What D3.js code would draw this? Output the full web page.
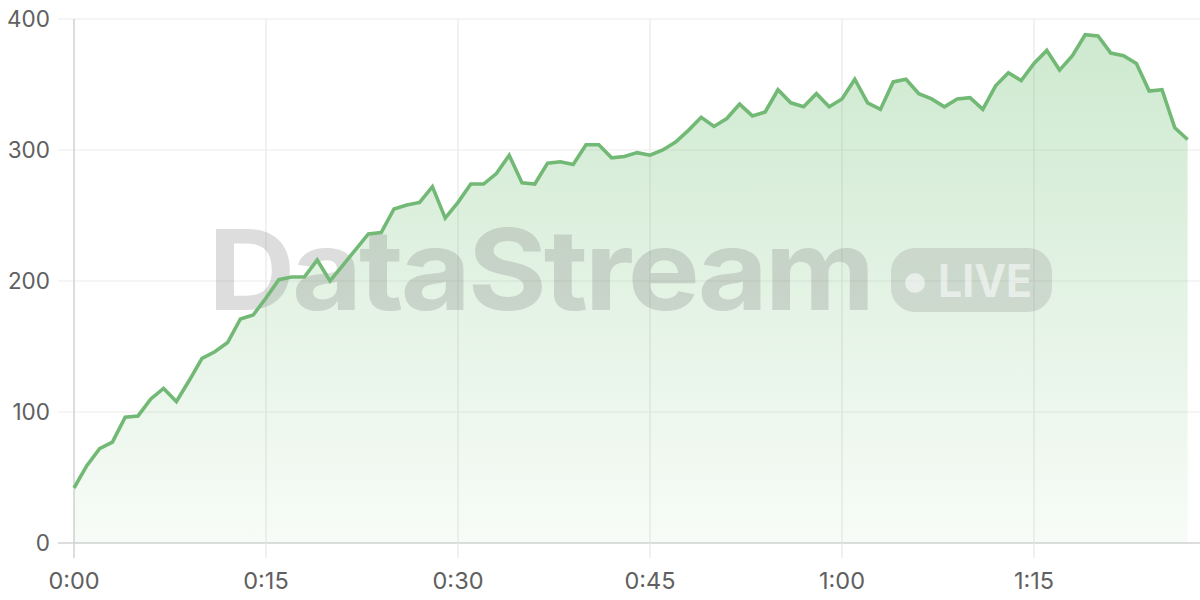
<!DOCTYPE html>
<html>
<head>
<meta charset="utf-8">
<script src="https://cdn.jsdelivr.net/npm/d3@7"></script>
<style>
  html, body { margin: 0; padding: 0; background: #fff; }
  text { font-family: Inter, "Noto Sans", sans-serif; }
</style>
</head>
<body>
<div id="canvas"></div>
<script>
var width = 1200;
var height = 600;

// seconds since start, one reading per second
var seconds = d3.range(0, 88);
var values = [
  42, 59, 72, 77, 96, 97, 110, 118, 108, 124,
  141, 146, 153, 171, 174, 187, 201, 203, 203, 216,
  200, 212, 224, 236, 237, 255, 258, 260, 272, 248,
  260, 274, 274, 282, 296, 275, 274, 290, 291, 289,
  304, 304, 294, 295, 298, 296, 300, 306, 315, 325,
  318, 324, 335, 326, 329, 346, 336, 333, 343, 333,
  339, 354, 336, 331, 352, 354, 343, 339, 333, 339,
  340, 331, 349, 359, 353, 366, 376, 361, 372, 388,
  387, 374, 372, 366, 345, 346, 317, 308
];
var xTicks = [0, 15, 30, 45, 60, 75];
var yTicks = [0, 100, 200, 300, 400];

var svg = d3.select("#canvas").append("svg")
      .attr("width", width)
      .attr("height", height);

var x = d3.scaleLinear().domain([0, 87]).range([74, 1187.6]);
var y = d3.scaleLinear().domain([0, 400]).range([543, 19]);

function fmt(s) {
  return Math.floor(s / 60) + ":" + d3.format("02")(s % 60);
}

// gradient for the area
var grad = svg.append("defs").append("linearGradient")
    .attr("id", "fillGrad")
    .attr("x1", 0).attr("y1", 0).attr("x2", 0).attr("y2", 1);
grad.append("stop").attr("offset", "0%").attr("stop-color", "#66bb6a").attr("stop-opacity", 0.32);
grad.append("stop").attr("offset", "100%").attr("stop-color", "#66bb6a").attr("stop-opacity", 0.05);

// horizontal grid + y labels
svg.append("g").selectAll("line")
    .data(yTicks).enter().append("line")
    .attr("x1", 58).attr("x2", width)
    .attr("y1", d => y(d)).attr("y2", d => y(d))
    .attr("stroke", d => d === 0 ? "#d2d2d2" : "#ebebeb")
    .attr("stroke-width", d => d === 0 ? 1.5 : 1.2);

svg.append("g").selectAll("text")
    .data(yTicks).enter().append("text")
    .attr("x", 50).attr("y", d => y(d))
    .attr("dy", "0.36em")
    .attr("text-anchor", "end")
    .attr("fill", "#606060")
    .attr("font-size", 22.5)
    .text(d => d);

// vertical grid + x labels
svg.append("g").selectAll("line")
    .data(xTicks).enter().append("line")
    .attr("x1", d => x(d)).attr("x2", d => x(d))
    .attr("y1", 19).attr("y2", 558)
    .attr("stroke", d => d === 0 ? "#d2d2d2" : "#e8e8e8")
    .attr("stroke-width", d => d === 0 ? 1.5 : 1.2);

svg.append("g").selectAll("text")
    .data(xTicks).enter().append("text")
    .attr("x", d => x(d)).attr("y", 588.5)
    .attr("text-anchor", "middle")
    .attr("fill", "#606060")
    .attr("font-size", 23.5)
    .text(d => fmt(d));

// area
var area = d3.area()
    .x((d, i) => x(seconds[i]))
    .y0(y(0))
    .y1(d => y(d));

svg.append("path")
    .datum(values)
    .attr("d", area)
    .attr("fill", "url(#fillGrad)");

// watermark
var wm = svg.append("g").attr("class", "watermark");
wm.append("text")
    .attr("x", 208).attr("y", 310)
    .attr("font-size", 112)
    .attr("font-weight", 700)
    .attr("letter-spacing", -3)
    .attr("textLength", 664)
    .attr("lengthAdjust", "spacingAndGlyphs")
    .attr("fill", "#808080")
    .attr("fill-opacity", 0.27)
    .text("DataStream");
wm.append("rect")
    .attr("x", 891).attr("y", 248)
    .attr("width", 161).attr("height", 64)
    .attr("rx", 24)
    .attr("fill", "#808080")
    .attr("fill-opacity", 0.22);
wm.append("circle")
    .attr("cx", 915).attr("cy", 283).attr("r", 10)
    .attr("fill", "#fff").attr("fill-opacity", 0.55);
wm.append("text")
    .attr("x", 938).attr("y", 297)
    .attr("font-size", 45)
    .attr("font-weight", 700)
    .attr("textLength", 94)
    .attr("lengthAdjust", "spacingAndGlyphs")
    .attr("fill", "#fff").attr("fill-opacity", 0.55)
    .text("LIVE");

// line
var line = d3.line()
    .x((d, i) => x(seconds[i]))
    .y(d => y(d));

svg.append("path")
    .datum(values)
    .attr("d", line)
    .attr("fill", "none")
    .attr("stroke", "#73b976")
    .attr("stroke-width", 3.6)
    .attr("stroke-linejoin", "miter");
</script>
</body>
</html>
